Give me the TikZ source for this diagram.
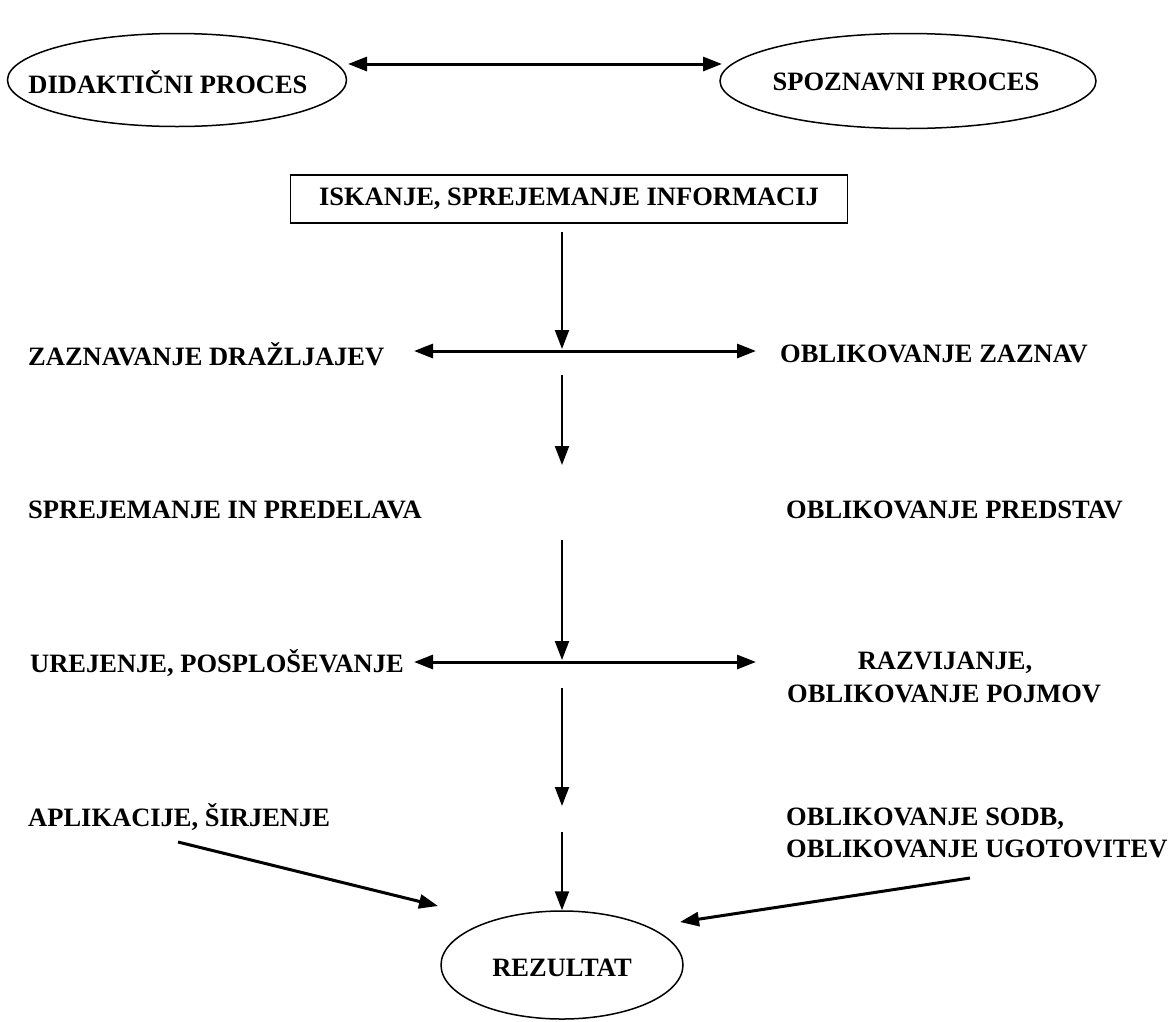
\documentclass[tikz,border=0pt]{standalone}
\usepackage{fontspec}
\setmainfont{Liberation Serif}
\usetikzlibrary{arrows.meta,shapes.geometric}
\begin{document}
\begin{tikzpicture}[x=1pt,y=-1pt,
  every node/.style={font=\fontsize{26.5}{31.8}\selectfont\bfseries, inner sep=0pt},
  oval/.style={draw, ellipse, line width=1.5pt},
  lbl/.style={anchor=west, align=left},
  tip/.tip={Triangle[length=19pt,width=14pt]},
  conn/.style={line width=2pt, -tip},
  thick conn/.style={line width=3pt, -tip},
  dconn/.style={line width=3pt, tip-tip}
]
\useasboundingbox (0,0) rectangle (1170,1021);

% top ellipses
\node[oval, minimum width=339pt, minimum height=93pt] (did) at (177,80) {};
\node at (168,82) {DIDAKTIČNI PROCES};
\node[oval, minimum width=376pt, minimum height=95pt] (spo) at (908,81) {};
\node at (906,82) {SPOZNAVNI PROCES};
\coordinate (dR) at (348,64);
\coordinate (sL) at (722,64);
\draw[dconn] (dR) -- (sL);

% information box
\node[draw, line width=1.5pt, minimum width=557pt, minimum height=48pt] (isk) at (569,199) {ISKANJE, SPREJEMANJE INFORMACIJ};

% side labels
\node[lbl] (zaz) at (28,354) {ZAZNAVANJE DRAŽLJAJEV};
\node[lbl] (obz) at (780,354) {OBLIKOVANJE ZAZNAV};
\node[lbl] (spr) at (28,510) {SPREJEMANJE IN PREDELAVA};
\node[lbl] (obp) at (786,510) {OBLIKOVANJE PREDSTAV};
\node[lbl] (ure) at (30,663) {UREJENJE, POSPLOŠEVANJE};
\node (raz) at (945,663) {RAZVIJANJE,};
\node[lbl] (poj) at (787,694) {OBLIKOVANJE POJMOV};
\node[lbl] (apl) at (28,817) {APLIKACIJE, ŠIRJENJE};
\node[lbl] (sod) at (786,833) {OBLIKOVANJE SODB,\\OBLIKOVANJE UGOTOVITEV};

% result
\node[oval, minimum width=242pt, minimum height=108pt] (rez) at (562,965) {};
\node at (562,968) {REZULTAT};

% central column
\coordinate (a1) at (562,232);
\coordinate (a1e) at (562,349);
\coordinate (h1L) at (414,351);
\coordinate (h1R) at (756,351);
\coordinate (a2) at (562,375);
\coordinate (a2e) at (562,465);
\coordinate (a3) at (562,540);
\coordinate (a3e) at (562,660);
\coordinate (h2L) at (414,662);
\coordinate (h2R) at (756,662);
\coordinate (a4) at (562,688);
\coordinate (a4e) at (562,806);
\coordinate (a5) at (562,832);
\coordinate (aplS) at (178,842);
\coordinate (aplE) at (438,906);
\coordinate (sodS) at (970,878);
\coordinate (sodE) at (680,922);

\draw[conn] (a1) -- (a1e);
\draw[dconn] (h1L) -- (h1R);
\draw[conn] (a2) -- (a2e);
\draw[conn] (a3) -- (a3e);
\draw[dconn] (h2L) -- (h2R);
\draw[conn] (a4) -- (a4e);
\draw[conn] (a5) -- (rez.north);
\draw[thick conn] (aplS) -- (aplE);
\draw[thick conn] (sodS) -- (sodE);
\end{tikzpicture}
\end{document}
